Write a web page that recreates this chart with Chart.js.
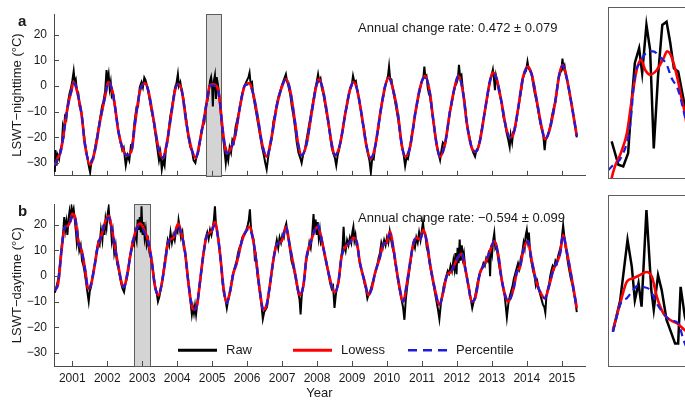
<!DOCTYPE html>
<html><head><meta charset="utf-8">
<script src="https://cdn.jsdelivr.net/npm/chart.js@4.4.1/dist/chart.umd.min.js"></script>
<style>
html,body{margin:0;padding:0;background:#fff;width:685px;height:405px;overflow:hidden;position:relative}
canvas{position:absolute}
</style></head><body>
<canvas id="cTop" width="600" height="190" style="left:0;top:0"></canvas>
<canvas id="cBot" width="600" height="215" style="left:0;top:190px"></canvas>
<canvas id="iTop" width="110" height="190" style="left:606px;top:0"></canvas>
<canvas id="iBot" width="110" height="190" style="left:606px;top:190px"></canvas>
<script>
// ---------- tick labels / categories ----------
const yearTicks = [2001,2002,2003,2004,2005,2006,2007,2008,2009,2010,2011,2012,2013,2014,2015];
const yTickValues = [-30,-20,-10,0,10,20];
const seriesLabels = ['Raw','Lowess','Percentile'];
const nightTitle = 'LSWT\u2212nighttime (\u00B0C)';
const dayTitle = 'LSWT\u2212daytime (\u00B0C)';
const nightNote = 'Annual change rate: 0.472 \u00B1 0.079';
const dayNote = 'Annual change rate: \u22120.594 \u00B1 0.099';
const nightWindow = [2004.82, 2005.25];
const dayWindow = [2002.77, 2003.22];

// ---------- nighttime series [year, °C] ----------
const nightLowess = [[2000.50,-31],[2000.58,-28],[2000.66,-26],[2000.74,-20],[2000.82,-12],[2000.90,-6],[2000.98,-1.6],[2001.03,1.5],[2001.08,0.7],[2001.17,-4],[2001.27,-11.5],[2001.36,-22.6],[2001.51,-30.6],[2001.65,-25],[2001.79,-14],[2001.94,-4],[2002.03,1.5],[2002.13,-1],[2002.22,-7.8],[2002.32,-17.7],[2002.46,-25],[2002.57,-27],[2002.70,-25],[2002.79,-15],[2002.94,-1.6],[2003.08,1],[2003.17,-1.6],[2003.32,-12.7],[2003.46,-23.8],[2003.59,-28],[2003.70,-22.6],[2003.84,-10.2],[2003.94,-1.6],[2004.03,0.7],[2004.13,-1.6],[2004.27,-15],[2004.42,-25],[2004.54,-28],[2004.65,-21.4],[2004.80,-10.2],[2004.94,0.3],[2005.03,0.7],[2005.15,-0.5],[2005.22,-6],[2005.31,-18],[2005.42,-26.3],[2005.51,-25],[2005.65,-20],[2005.80,-7.8],[2005.94,0.3],[2006.06,1.1],[2006.17,-2.8],[2006.31,-12.7],[2006.43,-22.6],[2006.56,-27.5],[2006.70,-20],[2006.85,-7.8],[2006.99,-0.5],[2007.11,2.7],[2007.23,-1.6],[2007.37,-14],[2007.46,-22.6],[2007.56,-27],[2007.70,-22.6],[2007.85,-10.2],[2007.99,0.7],[2008.06,2.7],[2008.17,-1.6],[2008.31,-12.7],[2008.42,-22.6],[2008.51,-27],[2008.66,-22.6],[2008.80,-11.5],[2008.94,-1.6],[2009.04,1.5],[2009.14,-1],[2009.28,-11.5],[2009.42,-23.8],[2009.54,-28.5],[2009.66,-23.8],[2009.80,-11.5],[2009.94,-0.5],[2010.06,3.3],[2010.17,-1],[2010.32,-11.5],[2010.42,-22.6],[2010.52,-27.5],[2010.66,-23.8],[2010.80,-11.5],[2010.95,-0.5],[2011.09,4],[2011.23,-2.8],[2011.32,-12.7],[2011.42,-22.6],[2011.52,-27.5],[2011.66,-22.6],[2011.80,-10.2],[2011.95,0.3],[2012.04,4],[2012.18,-2.8],[2012.28,-14],[2012.42,-23.8],[2012.55,-25.6],[2012.66,-21.4],[2012.81,-9],[2012.95,2.1],[2013.03,5.2],[2013.14,2.7],[2013.28,-6.5],[2013.41,-16.4],[2013.52,-20],[2013.61,-19],[2013.75,-9],[2013.89,3.3],[2014.03,7.6],[2014.14,4.6],[2014.28,-5.3],[2014.43,-16.4],[2014.52,-20.7],[2014.64,-17.7],[2014.81,-6.5],[2014.93,4.6],[2015.03,8.3],[2015.14,3.3],[2015.29,-7.8],[2015.43,-19.5]];
const nightPercentile = [[2000.50,-31],[2000.58,-28],[2000.66,-26],[2000.74,-20],[2000.82,-12],[2000.90,-6],[2000.98,-1.6],[2001.03,1.0],[2001.08,0.7],[2001.17,-4],[2001.27,-11.5],[2001.36,-22.6],[2001.51,-30],[2001.65,-25],[2001.79,-14],[2001.94,-4],[2002.03,1.5],[2002.13,-1],[2002.22,-7.8],[2002.32,-17.7],[2002.46,-25],[2002.57,-27],[2002.70,-25],[2002.79,-15],[2002.94,-1.6],[2003.08,1],[2003.17,-1.6],[2003.32,-12.7],[2003.46,-23.8],[2003.59,-28],[2003.70,-22.6],[2003.84,-10.2],[2003.94,-1.6],[2004.03,0.7],[2004.13,-1.6],[2004.27,-15],[2004.42,-25],[2004.54,-28],[2004.65,-21.4],[2004.80,-10.2],[2004.94,0.3],[2005.03,0.2],[2005.15,-1],[2005.22,-6],[2005.31,-18],[2005.42,-26.3],[2005.51,-25],[2005.65,-20],[2005.80,-7.8],[2005.94,0.3],[2006.06,0.6],[2006.17,-2.8],[2006.31,-12.7],[2006.43,-22.6],[2006.56,-27.5],[2006.70,-20],[2006.85,-7.8],[2006.99,-0.5],[2007.11,2.7],[2007.23,-1.6],[2007.37,-14],[2007.46,-22.6],[2007.56,-27],[2007.70,-22.6],[2007.85,-10.2],[2007.99,0.7],[2008.06,2.7],[2008.17,-1.6],[2008.31,-12.7],[2008.42,-22.6],[2008.51,-27],[2008.66,-22.6],[2008.80,-11.5],[2008.94,-1.6],[2009.04,1.5],[2009.14,-1],[2009.28,-11.5],[2009.42,-23.8],[2009.54,-28],[2009.66,-23.8],[2009.80,-11.5],[2009.94,-0.5],[2010.06,2.8],[2010.17,-1],[2010.32,-11.5],[2010.42,-22.6],[2010.52,-27.5],[2010.66,-23.8],[2010.80,-11.5],[2010.95,-0.5],[2011.09,4],[2011.23,-2.8],[2011.32,-12.7],[2011.42,-22.6],[2011.52,-27.5],[2011.66,-22.6],[2011.80,-10.2],[2011.95,0.3],[2012.04,4],[2012.18,-2.8],[2012.28,-14],[2012.42,-23.8],[2012.55,-25.6],[2012.66,-21.4],[2012.81,-9],[2012.95,2.1],[2013.03,4.6],[2013.14,2.7],[2013.28,-6.5],[2013.41,-16.4],[2013.52,-20],[2013.61,-19],[2013.75,-9],[2013.89,3.3],[2014.03,7.2],[2014.14,4.6],[2014.28,-5.3],[2014.43,-16.4],[2014.52,-20.7],[2014.64,-17.7],[2014.81,-6.5],[2014.93,4.6],[2015.03,8.0],[2015.14,3.3],[2015.29,-7.8],[2015.43,-19.5]];
const nightRaw = [[2000.50,-33.5],[2000.52,-25],[2000.55,-31],[2000.58,-27],[2000.62,-28.5],[2000.66,-25],[2000.70,-23],[2000.73,-16],[2000.76,-18],[2000.79,-12],[2000.83,-13],[2000.87,-7],[2000.92,-3],[2000.96,-1],[2001.00,2],[2001.04,5.8],[2001.07,1.5],[2001.10,2.5],[2001.13,-1.5],[2001.17,-2.5],[2001.21,-8],[2001.26,-10],[2001.31,-16],[2001.36,-22],[2001.42,-27],[2001.47,-31],[2001.51,-33.7],[2001.55,-29],[2001.60,-28.5],[2001.65,-24],[2001.72,-19],[2001.79,-13],[2001.85,-8],[2001.89,-6],[2001.94,-2],[2001.98,6.2],[2002.01,2],[2002.04,4.5],[2002.07,-1],[2002.10,1.5],[2002.13,-4],[2002.17,-3],[2002.22,-8],[2002.27,-13],[2002.32,-18],[2002.38,-22],[2002.43,-25],[2002.47,-24],[2002.53,-31],[2002.58,-27],[2002.63,-29],[2002.68,-23],[2002.72,-23],[2002.78,-14],[2002.84,-8],[2002.88,-8],[2002.93,-0.5],[2002.98,1.5],[2003.02,-0.5],[2003.06,3.3],[2003.09,2.5],[2003.13,0.5],[2003.17,-2],[2003.22,-6],[2003.27,-10],[2003.32,-13],[2003.38,-19],[2003.44,-25],[2003.48,-29],[2003.52,-26],[2003.56,-32.5],[2003.60,-29],[2003.64,-31],[2003.68,-24],[2003.71,-23],[2003.76,-17],[2003.80,-12],[2003.84,-9],[2003.90,-4],[2003.94,-0.5],[2003.98,1],[2004.02,4.6],[2004.05,0],[2004.09,1.5],[2004.13,-2],[2004.18,-5],[2004.23,-10],[2004.27,-14],[2004.32,-20],[2004.38,-24],[2004.42,-25],[2004.47,-29],[2004.52,-30],[2004.56,-27],[2004.60,-26],[2004.65,-22],[2004.70,-17],[2004.74,-15.5],[2004.78,-14],[2004.82,-8],[2004.86,-6],[2004.90,-3],[2004.94,2],[2004.97,3.5],[2005.00,0],[2005.02,-8],[2005.05,2],[2005.08,4.2],[2005.11,-5],[2005.13,3.5],[2005.16,1],[2005.20,-3],[2005.23,-8],[2005.28,-16],[2005.33,-22],[2005.39,-30],[2005.42,-26],[2005.46,-29],[2005.50,-24],[2005.54,-26],[2005.58,-21],[2005.62,-22],[2005.67,-16],[2005.72,-13],[2005.77,-10],[2005.82,-6],[2005.86,-3],[2005.90,-1],[2005.94,0.5],[2005.99,2],[2006.04,3.5],[2006.07,5.2],[2006.10,1],[2006.14,1.5],[2006.18,-4],[2006.23,-8],[2006.28,-12],[2006.33,-16],[2006.38,-20],[2006.43,-24],[2006.48,-27],[2006.52,-30],[2006.56,-32.5],[2006.60,-28],[2006.65,-24],[2006.70,-21],[2006.75,-14],[2006.80,-11],[2006.85,-7],[2006.90,-4],[2006.95,-2],[2006.99,0],[2007.04,2],[2007.08,3.5],[2007.11,4.6],[2007.14,2],[2007.18,0],[2007.23,-3],[2007.28,-8],[2007.33,-12],[2007.38,-17],[2007.42,-22],[2007.47,-26],[2007.52,-28],[2007.56,-30],[2007.60,-27],[2007.65,-25],[2007.70,-21],[2007.75,-17],[2007.80,-13],[2007.85,-9],[2007.90,-5],[2007.95,-1],[2007.99,1.5],[2008.03,4.6],[2008.06,2],[2008.10,3],[2008.14,-1],[2008.18,-3],[2008.23,-7],[2008.28,-11],[2008.33,-15],[2008.38,-20],[2008.42,-24],[2008.47,-26.5],[2008.51,-28],[2008.55,-31],[2008.59,-27],[2008.63,-25],[2008.68,-21],[2008.74,-17],[2008.80,-11],[2008.85,-8],[2008.90,-4],[2008.94,-1.5],[2008.99,0],[2009.03,4],[2009.07,1.5],[2009.11,2],[2009.15,-1.5],[2009.20,-5],[2009.25,-9],[2009.30,-14],[2009.35,-17],[2009.40,-22],[2009.45,-26],[2009.50,-29],[2009.54,-33.7],[2009.58,-28],[2009.62,-28.5],[2009.66,-24],[2009.71,-20],[2009.76,-16],[2009.80,-11],[2009.85,-7],[2009.90,-4],[2009.94,-0.5],[2009.99,2],[2010.03,4],[2010.06,7.6],[2010.09,3],[2010.13,2.5],[2010.17,-1.5],[2010.22,-5],[2010.27,-9],[2010.32,-13],[2010.37,-18],[2010.42,-23],[2010.47,-26],[2010.52,-31.2],[2010.56,-28],[2010.60,-28.5],[2010.66,-24],[2010.71,-19],[2010.76,-16],[2010.80,-11],[2010.85,-8],[2010.90,-4],[2010.95,-1],[2010.99,1.5],[2011.04,3],[2011.07,7.6],[2011.10,3.5],[2011.13,4],[2011.17,-1],[2011.20,-3],[2011.23,-4],[2011.28,-9],[2011.32,-13],[2011.37,-18],[2011.42,-23],[2011.47,-26],[2011.52,-28.8],[2011.56,-25],[2011.60,-22],[2011.66,-23],[2011.71,-19],[2011.76,-14],[2011.80,-10],[2011.85,-7],[2011.90,-3],[2011.95,0],[2011.99,1],[2012.03,3],[2012.06,8.3],[2012.09,4],[2012.13,4.5],[2012.18,-2.5],[2012.23,-7],[2012.28,-14],[2012.33,-18],[2012.38,-21],[2012.42,-24],[2012.47,-26],[2012.52,-27.5],[2012.56,-25],[2012.61,-24],[2012.66,-21],[2012.71,-17],[2012.76,-13],[2012.81,-9],[2012.86,-5],[2012.91,-1],[2012.95,2],[2012.99,4],[2013.03,6.4],[2013.06,3],[2013.09,-1.6],[2013.12,4],[2013.16,1.5],[2013.20,-2],[2013.24,-4],[2013.28,-6.5],[2013.33,-12],[2013.38,-14.5],[2013.42,-18],[2013.47,-21],[2013.51,-23.8],[2013.54,-19],[2013.58,-22],[2013.61,-18],[2013.66,-17],[2013.71,-13],[2013.75,-9],[2013.80,-5],[2013.85,-1],[2013.89,3],[2013.94,5],[2013.98,6],[2014.02,9.5],[2014.05,7],[2014.09,6],[2014.14,4.5],[2014.19,0],[2014.23,-3],[2014.28,-6],[2014.33,-10],[2014.38,-14],[2014.43,-17],[2014.47,-19],[2014.51,-25],[2014.54,-21],[2014.58,-20],[2014.63,-18],[2014.68,-15],[2014.73,-11],[2014.78,-8],[2014.82,-6],[2014.87,-1],[2014.91,3],[2014.95,5],[2014.99,6],[2015.02,10.7],[2015.05,7],[2015.08,8],[2015.12,4],[2015.16,2],[2015.21,-2],[2015.25,-5],[2015.29,-8],[2015.34,-12],[2015.38,-15],[2015.43,-20]];

// ---------- daytime series [year, °C] ----------
const dayLowess = [[2000.50,-5.6],[2000.60,-2.5],[2000.70,11.1],[2000.79,19.2],[2000.87,19.5],[2000.93,21],[2001.00,24.2],[2001.08,22.9],[2001.17,13.6],[2001.27,9.9],[2001.36,3.1],[2001.46,-5],[2001.55,-2.5],[2001.65,5],[2001.74,12.4],[2001.84,16.1],[2001.94,21],[2002.05,23.5],[2002.13,18.6],[2002.22,11.1],[2002.32,3.7],[2002.41,-2.5],[2002.48,-4.3],[2002.57,0.6],[2002.70,11.1],[2002.84,18.6],[2002.94,20.4],[2003.08,17.4],[2003.17,13.6],[2003.27,6.2],[2003.36,-3.7],[2003.46,-7.4],[2003.55,-3.7],[2003.65,5],[2003.75,13.6],[2003.89,14.9],[2004.03,20.4],[2004.13,16.1],[2004.22,9.9],[2004.32,-2.5],[2004.41,-11.2],[2004.48,-13],[2004.57,-11.2],[2004.65,-2.5],[2004.74,7.4],[2004.84,15.5],[2004.98,17.4],[2005.08,21],[2005.17,15],[2005.24,7],[2005.33,-5],[2005.42,-10.5],[2005.51,-6.2],[2005.61,1.2],[2005.70,5],[2005.85,13.6],[2005.94,16.7],[2006.06,19.2],[2006.18,13.6],[2006.27,5],[2006.37,-6.2],[2006.46,-13],[2006.56,-11.2],[2006.65,-3.7],[2006.75,6.2],[2006.85,12.4],[2006.99,13.6],[2007.11,19.2],[2007.23,11.1],[2007.37,1.2],[2007.51,-7.4],[2007.61,-3.7],[2007.70,7.4],[2007.80,12.4],[2007.94,18],[2008.01,19.2],[2008.08,17.4],[2008.18,11.1],[2008.27,5],[2008.42,-3.7],[2008.51,-6.2],[2008.61,-2.5],[2008.70,7.4],[2008.80,11.1],[2008.94,13],[2009.04,14.9],[2009.13,13.6],[2009.23,5],[2009.37,-2.5],[2009.47,-7.4],[2009.56,-5],[2009.66,1.2],[2009.80,7.4],[2009.89,12.4],[2009.99,13],[2010.09,17.4],[2010.18,11.1],[2010.32,-1.2],[2010.47,-9.9],[2010.56,-3.7],[2010.66,5],[2010.75,12.4],[2010.85,14.9],[2010.95,14.3],[2011.04,18],[2011.14,13.6],[2011.23,5],[2011.37,-5],[2011.50,-11.2],[2011.61,-6.2],[2011.71,0],[2011.85,1.9],[2011.95,5],[2012.04,7.4],[2012.14,8.7],[2012.23,3.7],[2012.33,-3.7],[2012.42,-9.9],[2012.52,-8.7],[2012.66,1.2],[2012.81,5],[2012.95,9.9],[2013.07,13.6],[2013.18,8.7],[2013.28,-1.2],[2013.41,-8.7],[2013.47,-9.9],[2013.62,-5],[2013.71,1.2],[2013.81,3.7],[2013.90,9.9],[2014.03,13.6],[2014.14,6.2],[2014.28,-2.5],[2014.43,-7.4],[2014.52,-8.7],[2014.64,-3.7],[2014.76,2.5],[2014.85,5],[2014.95,8.7],[2015.04,16.1],[2015.14,9.9],[2015.29,-1.2],[2015.43,-12.4]];
const dayPercentile = [[2000.50,-5.6],[2000.60,-2.5],[2000.70,11.1],[2000.79,19.2],[2000.87,19.5],[2000.93,21],[2001.00,23.5],[2001.08,22.9],[2001.17,13.6],[2001.27,9.9],[2001.36,3.1],[2001.46,-5],[2001.55,-2.5],[2001.65,5],[2001.74,12.4],[2001.84,16.1],[2001.94,21],[2002.05,22.8],[2002.13,18.6],[2002.22,11.1],[2002.32,3.7],[2002.41,-2.5],[2002.48,-4.3],[2002.57,0.6],[2002.70,11.1],[2002.84,18.6],[2002.94,19.5],[2003.08,16.5],[2003.17,13.6],[2003.27,6.2],[2003.36,-3.7],[2003.46,-7.4],[2003.55,-3.7],[2003.65,5],[2003.75,13.6],[2003.89,14.9],[2004.03,19.5],[2004.13,16.1],[2004.22,9.9],[2004.32,-2.5],[2004.41,-11.2],[2004.48,-13],[2004.57,-11.2],[2004.65,-2.5],[2004.74,7.4],[2004.84,15.5],[2004.98,17.4],[2005.08,19.8],[2005.17,15],[2005.24,7],[2005.33,-5],[2005.42,-10.5],[2005.51,-6.2],[2005.61,1.2],[2005.70,5],[2005.85,13.6],[2005.94,16.7],[2006.06,18.5],[2006.18,13.6],[2006.27,5],[2006.37,-6.2],[2006.46,-13],[2006.56,-11.2],[2006.65,-3.7],[2006.75,6.2],[2006.85,12.4],[2006.99,13.6],[2007.11,19.2],[2007.23,11.1],[2007.37,1.2],[2007.51,-7.4],[2007.61,-3.7],[2007.70,7.4],[2007.80,12.4],[2007.94,18],[2008.01,20.3],[2008.08,17.4],[2008.18,11.1],[2008.27,5],[2008.42,-3.7],[2008.51,-6.2],[2008.61,-2.5],[2008.70,7.4],[2008.80,11.1],[2008.94,13],[2009.04,14.9],[2009.13,13.6],[2009.23,5],[2009.37,-2.5],[2009.47,-7.4],[2009.56,-5],[2009.66,1.2],[2009.80,7.4],[2009.89,12.4],[2009.99,13],[2010.09,16.5],[2010.18,11.1],[2010.32,-1.2],[2010.47,-9.9],[2010.56,-3.7],[2010.66,5],[2010.75,12.4],[2010.85,14.9],[2010.95,14.3],[2011.04,17.2],[2011.14,13.6],[2011.23,5],[2011.37,-5],[2011.50,-11.2],[2011.61,-6.2],[2011.71,0],[2011.85,1.9],[2011.95,5],[2012.04,7.4],[2012.14,9.3],[2012.23,3.7],[2012.33,-3.7],[2012.42,-9.9],[2012.52,-8.7],[2012.66,1.2],[2012.81,5],[2012.95,9.9],[2013.07,13.6],[2013.18,8.7],[2013.28,-1.2],[2013.41,-8.7],[2013.47,-9.9],[2013.62,-5],[2013.71,1.2],[2013.81,3.7],[2013.90,9.9],[2014.03,13.6],[2014.14,6.2],[2014.28,-2.5],[2014.43,-7.4],[2014.52,-8.7],[2014.64,-3.7],[2014.76,2.5],[2014.85,5],[2014.95,8.7],[2015.04,16.1],[2015.14,9.9],[2015.29,-1.2],[2015.43,-12.4]];
const dayRaw = [[2000.50,-6.5],[2000.55,-4],[2000.60,-1],[2000.65,5],[2000.70,12],[2000.74,17],[2000.77,23],[2000.80,18],[2000.83,21],[2000.86,16],[2000.89,22],[2000.92,25],[2000.95,21],[2000.98,26.7],[2001.01,24],[2001.04,26],[2001.07,22],[2001.10,18],[2001.13,13],[2001.16,16],[2001.20,10],[2001.24,12],[2001.28,6],[2001.32,4],[2001.36,1],[2001.40,-3],[2001.44,-7],[2001.47,-9.9],[2001.50,-6],[2001.54,-4],[2001.58,0],[2001.62,3],[2001.66,6],[2001.70,10],[2001.74,13],[2001.78,12],[2001.82,18],[2001.86,14],[2001.89,20],[2001.92,16],[2001.95,22],[2001.98,19],[2002.01,24],[2002.04,26.7],[2002.07,21],[2002.10,20],[2002.13,14],[2002.16,17],[2002.20,9],[2002.24,12],[2002.28,5],[2002.32,3],[2002.36,0],[2002.40,-3],[2002.44,-5],[2002.48,-6.2],[2002.52,-3],[2002.56,-1],[2002.60,2],[2002.64,7],[2002.68,9],[2002.72,13],[2002.76,12],[2002.80,17],[2002.84,14],[2002.87,22],[2002.90,18],[2002.93,23],[2002.96,17],[2002.98,27.2],[2003.01,16],[2003.04,21],[2003.07,15],[2003.10,18],[2003.13,12],[2003.17,14],[2003.21,9],[2003.25,7],[2003.29,4],[2003.33,0],[2003.37,-4],[2003.41,-6],[2003.45,-9.9],[2003.49,-8],[2003.53,-5],[2003.57,-2],[2003.61,2],[2003.65,6],[2003.69,10],[2003.73,14],[2003.77,12],[2003.81,17],[2003.85,13],[2003.89,16],[2003.93,14],[2003.97,18],[2004.01,17],[2004.04,21.7],[2004.08,18],[2004.11,15],[2004.15,17],[2004.19,11],[2004.23,9],[2004.27,4],[2004.31,-1],[2004.35,-6],[2004.39,-11],[2004.42,-14.9],[2004.45,-12],[2004.48,-14.5],[2004.51,-11.5],[2004.54,-14.9],[2004.58,-10],[2004.62,-6],[2004.66,-2],[2004.70,3],[2004.74,8],[2004.78,11],[2004.82,15],[2004.86,17],[2004.90,14.5],[2004.94,18],[2004.98,16],[2005.02,19],[2005.05,22],[2005.08,27.2],[2005.11,20],[2005.14,18],[2005.18,14],[2005.22,9],[2005.26,4],[2005.30,-3],[2005.34,-7],[2005.38,-9],[2005.42,-12.4],[2005.46,-9],[2005.50,-7],[2005.54,-4],[2005.58,0],[2005.62,2],[2005.66,4],[2005.70,6],[2005.74,9],[2005.78,11],[2005.82,12],[2005.86,15],[2005.90,16],[2005.94,17],[2005.98,18],[2006.02,20],[2006.05,22],[2006.08,26],[2006.11,19],[2006.15,16],[2006.19,14],[2006.22,7],[2006.25,8],[2006.29,1],[2006.33,-3],[2006.37,-7],[2006.41,-11],[2006.45,-16.7],[2006.49,-14],[2006.53,-13],[2006.57,-12],[2006.61,-8],[2006.65,-4],[2006.69,0],[2006.73,4],[2006.77,8],[2006.81,11],[2006.85,14],[2006.89,11],[2006.93,15],[2006.97,13],[2007.01,16],[2007.05,15],[2007.09,19],[2007.12,20.4],[2007.15,17],[2007.19,14],[2007.23,10],[2007.27,6],[2007.31,4],[2007.35,2],[2007.39,-1],[2007.43,-4],[2007.47,-7],[2007.50,-9],[2007.53,-14.9],[2007.56,-8],[2007.59,-5],[2007.62,-3],[2007.66,2],[2007.70,7],[2007.74,9],[2007.78,13],[2007.82,11],[2007.86,16],[2007.90,24.2],[2007.93,17],[2007.96,22],[2007.99,16],[2008.02,21],[2008.05,15],[2008.08,18],[2008.11,13],[2008.14,14],[2008.18,11],[2008.22,8],[2008.26,6],[2008.30,3],[2008.34,0],[2008.38,-3],[2008.42,-5],[2008.46,-4],[2008.50,-12.4],[2008.54,-7],[2008.58,-4],[2008.62,-2],[2008.66,3],[2008.70,8],[2008.73,11],[2008.76,19.2],[2008.79,12],[2008.82,10],[2008.86,14],[2008.90,12],[2008.94,15],[2008.98,13],[2009.01,17],[2009.04,19.2],[2009.07,14],[2009.10,16],[2009.13,12],[2009.17,11],[2009.20,7],[2009.24,4],[2009.28,2],[2009.32,0],[2009.36,-3],[2009.40,-5],[2009.44,-8.7],[2009.48,-7],[2009.52,-6],[2009.56,-4],[2009.60,-2],[2009.64,0],[2009.68,2],[2009.72,4],[2009.76,7],[2009.80,9],[2009.84,13],[2009.88,11],[2009.92,14],[2009.96,12],[2010.00,15],[2010.04,13],[2010.08,17.4],[2010.12,14],[2010.16,11],[2010.20,9],[2010.24,5],[2010.28,2],[2010.32,-2],[2010.36,-5],[2010.40,-8],[2010.43,-10],[2010.46,-12],[2010.50,-17],[2010.54,-9],[2010.58,-4],[2010.62,0],[2010.65,3],[2010.68,6],[2010.72,10],[2010.76,13],[2010.80,11],[2010.84,15],[2010.88,13],[2010.92,17],[2010.96,14],[2011.00,18],[2011.03,21],[2011.06,17],[2011.10,16],[2011.14,11],[2011.18,9],[2011.22,5],[2011.26,2],[2011.30,-1],[2011.34,-4],[2011.38,-7],[2011.42,-10],[2011.46,-13],[2011.50,-16.7],[2011.54,-11],[2011.58,-8],[2011.62,-4],[2011.66,-2],[2011.70,0],[2011.74,2],[2011.78,1],[2011.82,4],[2011.86,2],[2011.90,6],[2011.93,3],[2011.96,9],[2011.99,0.7],[2012.02,11],[2012.05,5],[2012.08,14.2],[2012.11,6],[2012.14,12],[2012.17,7],[2012.20,9],[2012.24,3],[2012.28,0],[2012.32,-3],[2012.36,-6],[2012.40,-9],[2012.44,-12.4],[2012.48,-10],[2012.52,-8],[2012.56,-5],[2012.60,-2],[2012.64,0],[2012.68,2],[2012.72,3],[2012.76,5],[2012.80,4],[2012.84,7],[2012.88,6],[2012.92,10],[2012.95,0],[2012.98,12],[2013.01,9],[2013.04,14],[2013.07,16.7],[2013.10,11],[2013.13,12],[2013.17,8],[2013.21,4],[2013.25,1],[2013.29,-2],[2013.33,-5],[2013.37,-8],[2013.40,-12],[2013.43,-16.1],[2013.47,-11],[2013.51,-8],[2013.55,-6],[2013.59,-4],[2013.63,-1],[2013.67,1],[2013.71,3],[2013.75,5],[2013.79,3],[2013.83,7],[2013.87,9],[2013.91,13],[2013.94,11],[2013.97,16],[2014.00,18],[2014.03,14],[2014.06,17],[2014.10,8],[2014.14,5],[2014.18,2],[2014.22,0],[2014.26,-3.7],[2014.30,-2],[2014.34,-5],[2014.38,-7],[2014.42,-9],[2014.46,-11],[2014.50,-12],[2014.53,-14.2],[2014.56,-8],[2014.60,-5],[2014.64,-3],[2014.67,0],[2014.70,2],[2014.74,4],[2014.78,3],[2014.82,6],[2014.86,5],[2014.90,8],[2014.94,10],[2014.98,12],[2015.01,16],[2015.04,19.8],[2015.07,16],[2015.10,12],[2015.14,9],[2015.18,5],[2015.22,2],[2015.26,-1],[2015.30,-3],[2015.34,-6],[2015.38,-9],[2015.43,-14]];

// ---------- inset (zoomed window) series [day in window, °C] ----------
const insetNightRaw = [[6,-11.3],[17,-14.3],[25,-14.5],[33,-12.8],[39,-5.9],[44,-1.2],[51,0.7],[56,-2.5],[63,3.7],[69,0.5],[75,-12.2],[82,-2.9],[89,3.7],[96,4.1],[102,1.4],[108,-1.9],[115,-2.3],[126,-6.8],[134,-12]];
const insetNightLowess = [[0,-18.5],[6,-16],[11,-14.6],[22,-12.6],[31,-10.2],[39,-5.9],[47,-2.1],[54,-0.8],[61,-2.1],[69,-2.7],[80,-2.1],[91,-0.6],[97,0.3],[104,-0.4],[113,-2.9],[121,-5.9],[126,-7.7],[134,-12]];
const insetNightPercentile = [[0,-15],[9,-14.3],[22,-13.3],[36,-9.4],[44,-2.9],[52,-1.2],[63,0.1],[74,0.3],[85,-0.4],[96,-1.4],[104,-3.1],[115,-4.7],[126,-8.1],[138,-12.5]];
const insetDayRaw = [[8,2.4],[20,8.3],[32,19.6],[39,14.6],[44,8.3],[50,11.5],[55,7.1],[63,25.2],[71,10.2],[75,6.5],[82,13],[88,10.2],[96,4.6],[104,2.1],[110,0.2],[115,0.2],[119,10.8],[126,5.2],[134,2]];
const insetDayLowess = [[8,2.7],[20,7.7],[31,11.8],[41,12.4],[52,13],[63,13.6],[72,12.7],[80,9],[91,5.8],[102,4.6],[113,4],[126,2.7],[140,1.5]];
const insetDayPercentile = [[8,2.4],[22,8],[31,8.7],[41,10.2],[50,11.1],[58,10.8],[69,10.2],[80,7.7],[91,5.8],[102,4.6],[115,4],[124,0.8],[134,-2]];

// ---------- styling ----------
const FONT = '"Liberation Sans", Arial, Helvetica, sans-serif';
const AX = '#4a4a4a';
const TXT = '#1a1a1a';
const RED = '#ff0000';
const BLUE = '#1c1ce0';
const X_MIN = 2000.477, X_MAX = 2015.665;

function toXY(p) { return p.map(d => ({x: d[0], y: d[1]})); }
function fmt(v) { return v < 0 ? '\u2212' + Math.abs(v) : String(v); }

function panelPlugin(o) {
  return {
    id: 'panel' + o.letter,
    beforeDatasetsDraw(chart) {
      const {ctx, chartArea: a, scales: {x}} = chart;
      const x1 = Math.round(x.getPixelForValue(o.window[0])), x2 = Math.round(x.getPixelForValue(o.window[1]));
      ctx.save();
      ctx.fillStyle = '#d4d4d4';
      ctx.fillRect(x1, a.top, x2 - x1, a.bottom - a.top);
      ctx.strokeStyle = '#5e5e5e'; ctx.lineWidth = 1;
      ctx.strokeRect(x1 + 0.5, Math.round(a.top) + 0.5, x2 - x1, Math.round(a.bottom - a.top));
      ctx.restore();
    },
    afterDraw(chart) {
      const {ctx, chartArea: a, scales: {x, y}} = chart;
      ctx.save();
      ctx.strokeStyle = AX; ctx.lineWidth = 1;
      ctx.beginPath();
      yearTicks.forEach(v => { const px = Math.round(x.getPixelForValue(v)) + 0.5; ctx.moveTo(px, a.bottom); ctx.lineTo(px, a.bottom - 5); });
      yTickValues.forEach(v => { const py = Math.round(y.getPixelForValue(v)) + 0.5; ctx.moveTo(a.left, py); ctx.lineTo(a.left + 5, py); });
      ctx.stroke();
      ctx.fillStyle = TXT;
      ctx.font = '13px ' + FONT;
      ctx.textAlign = 'left'; ctx.textBaseline = 'middle';
      ctx.fillText(o.note, a.left + 304, a.top + 14);
      ctx.font = 'bold 15px ' + FONT;
      ctx.textBaseline = 'alphabetic';
      ctx.fillText(o.letter, 18, a.top + 12);
      if (o.legend) {
        const items = [
          {label: seriesLabels[0], color: '#000', dash: [], w: 3, x0: 124},
          {label: seriesLabels[1], color: RED, dash: [], w: 3, x0: 239},
          {label: seriesLabels[2], color: BLUE, dash: [9, 6], w: 2.5, x0: 354}
        ];
        const ly = a.top + 146;
        items.forEach(it => {
          ctx.beginPath(); ctx.setLineDash(it.dash); ctx.strokeStyle = it.color; ctx.lineWidth = it.w;
          ctx.moveTo(a.left + it.x0, ly); ctx.lineTo(a.left + it.x0 + 39, ly); ctx.stroke();
          ctx.setLineDash([]);
          ctx.fillStyle = TXT; ctx.font = '13px ' + FONT; ctx.textBaseline = 'middle';
          ctx.fillText(it.label, a.left + it.x0 + 48, ly);
        });
      }
      ctx.restore();
    }
  };
}

function mainChart(id, o) {
  return new Chart(document.getElementById(id), {
    type: 'line',
    data: {datasets: [
      {label: seriesLabels[0], data: toXY(o.raw), borderColor: '#000', borderWidth: 2.0, pointRadius: 0, tension: 0, order: 3},
      {label: seriesLabels[1], data: toXY(o.lowess), borderColor: RED, borderWidth: 2.7, pointRadius: 0, cubicInterpolationMode: 'monotone', order: 2},
      {label: seriesLabels[2], data: toXY(o.pct), borderColor: BLUE, borderWidth: 2.2, borderDash: [7, 5], pointRadius: 0, cubicInterpolationMode: 'monotone', order: 1}
    ]},
    options: {
      responsive: false, animation: false, devicePixelRatio: 1, events: [],
      layout: {padding: {top: o.padTop, right: 15, left: 0, bottom: 0}},
      plugins: {legend: {display: false}, tooltip: {enabled: false}},
      scales: {
        x: {type: 'linear', min: X_MIN, max: X_MAX,
          grid: {display: false, drawTicks: false},
          border: {display: true, color: AX, width: 1},
          afterBuildTicks: s => { s.ticks = yearTicks.map(v => ({value: v})); },
          afterFit: s => { s.height = o.xH; },
          ticks: {display: o.showYears, padding: 5, autoSkip: false, maxRotation: 0, font: {family: FONT, size: 12}, color: TXT, callback: v => String(v)},
          title: {display: o.showYears, text: 'Year', font: {family: FONT, size: 13}, color: TXT, padding: {top: 0, bottom: 4}}
        },
        y: {min: -35, max: 28,
          grid: {display: false, drawTicks: false},
          border: {display: true, color: AX, width: 1},
          afterBuildTicks: s => { s.ticks = yTickValues.map(v => ({value: v})); },
          afterFit: s => { s.width = 54; },
          ticks: {padding: 7, font: {family: FONT, size: 12}, color: TXT, callback: v => fmt(v)},
          title: {display: true, text: o.yTitle, font: {family: FONT, size: 13}, color: TXT, padding: {top: 10, bottom: 0}}
        }
      }
    },
    plugins: [panelPlugin(o)]
  });
}

function insetChart(id, o) {
  return new Chart(document.getElementById(id), {
    type: 'line',
    data: {datasets: [
      {data: toXY(o.raw), borderColor: '#000', borderWidth: 2.5, pointRadius: 0, tension: 0, order: 3},
      {data: toXY(o.lowess), borderColor: RED, borderWidth: 2.6, pointRadius: 0, cubicInterpolationMode: 'monotone', order: 2},
      {data: toXY(o.pct), borderColor: BLUE, borderWidth: 2.2, borderDash: [7, 5], pointRadius: 0, cubicInterpolationMode: 'monotone', order: 1}
    ]},
    options: {
      responsive: false, animation: false, devicePixelRatio: 1, events: [],
      layout: {padding: {left: 2, top: o.top, right: 0, bottom: o.bottom}},
      plugins: {legend: {display: false}, tooltip: {enabled: false}},
      scales: {x: {type: 'linear', display: false, min: 0, max: 177}, y: {display: false, min: o.min, max: o.max}}
    },
    plugins: [{id: 'box', afterDraw(c) {
      const a = c.chartArea, ctx = c.ctx;
      ctx.save(); ctx.strokeStyle = '#5e5e5e'; ctx.lineWidth = 1;
      ctx.strokeRect(Math.round(a.left) + 0.5, Math.round(a.top) + 0.5, Math.round(a.right - a.left) + 10, Math.round(a.bottom - a.top));
      ctx.restore();
    }}]
  });
}

mainChart('cTop', {raw: nightRaw, lowess: nightLowess, pct: nightPercentile, window: nightWindow, note: nightNote, letter: 'a',
  yTitle: nightTitle, padTop: 8, xH: 12, showYears: false, legend: false});
mainChart('cBot', {raw: dayRaw, lowess: dayLowess, pct: dayPercentile, window: dayWindow, note: dayNote, letter: 'b',
  yTitle: dayTitle, padTop: 6, xH: 39, showYears: true, legend: true});
insetChart('iTop', {raw: insetNightRaw, lowess: insetNightLowess, pct: insetNightPercentile, min: -16, max: 6, top: 7, bottom: 12});
insetChart('iBot', {raw: insetDayRaw, lowess: insetDayLowess, pct: insetDayPercentile, min: -4, max: 28, top: 5, bottom: 14});
</script>
</body></html>
